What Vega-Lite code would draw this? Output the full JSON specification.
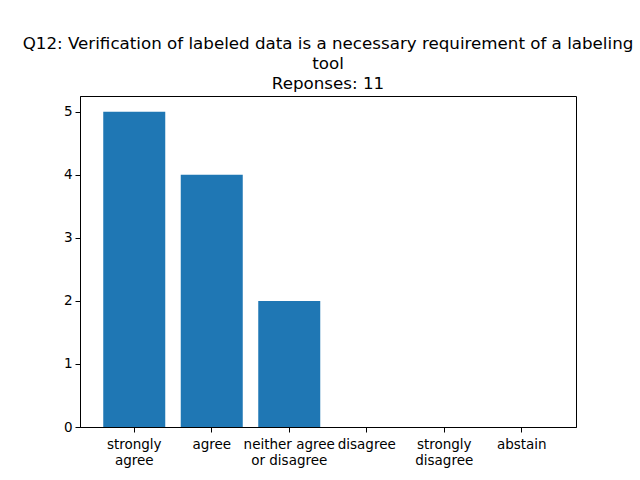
{
  "$schema": "https://vega.github.io/schema/vega-lite/v6.json",
  "width": 496,
  "height": 331,
  "autosize": {"type": "none"},
  "padding": {"left": 80, "top": 96, "right": 64, "bottom": 53},
  "background": "white",
  "title": {
    "text": ["Q12: Verification of labeled data is a necessary requirement of a labeling", "tool"],
    "subtitle": "Reponses: 11",
    "anchor": "middle",
    "frame": "group",
    "font": "DejaVu Sans",
    "fontSize": 16.7,
    "fontWeight": "normal",
    "color": "black",
    "lineHeight": 20,
    "subtitleFont": "DejaVu Sans",
    "subtitleFontSize": 16.7,
    "subtitleColor": "black",
    "subtitlePadding": 4,
    "subtitleLineHeight": 20,
    "offset": 3
  },
  "data": {
    "values": [
      {"answer": "strongly agree", "count": 5},
      {"answer": "agree", "count": 4},
      {"answer": "neither agree or disagree", "count": 2},
      {"answer": "disagree", "count": 0},
      {"answer": "strongly disagree", "count": 0},
      {"answer": "abstain", "count": 0}
    ]
  },
  "mark": {"type": "bar", "color": "#1f77b4"},
  "encoding": {
    "x": {
      "field": "answer",
      "type": "nominal",
      "sort": null,
      "scale": {"paddingInner": 0.2, "paddingOuter": 0.3},
      "axis": {
        "title": null,
        "labelAngle": 0,
        "labelExpr": "datum.value == 'neither agree or disagree' ? ['neither agree', 'or disagree'] : split(datum.value, ' ')",
        "labelLineHeight": 16,
        "labelPadding": 5
      }
    },
    "y": {
      "field": "count",
      "type": "quantitative",
      "scale": {"domain": [0, 5.25], "nice": false},
      "axis": {"title": null, "values": [0, 1, 2, 3, 4, 5], "grid": false}
    }
  },
  "config": {
    "view": {"stroke": "black", "strokeWidth": 1},
    "axis": {
      "labelFont": "DejaVu Sans",
      "labelFontSize": 13.5,
      "labelColor": "black",
      "domainColor": "black",
      "domainWidth": 1,
      "tickColor": "black",
      "tickSize": 5,
      "tickWidth": 1,
      "labelPadding": 3,
      "grid": false
    }
  }
}
